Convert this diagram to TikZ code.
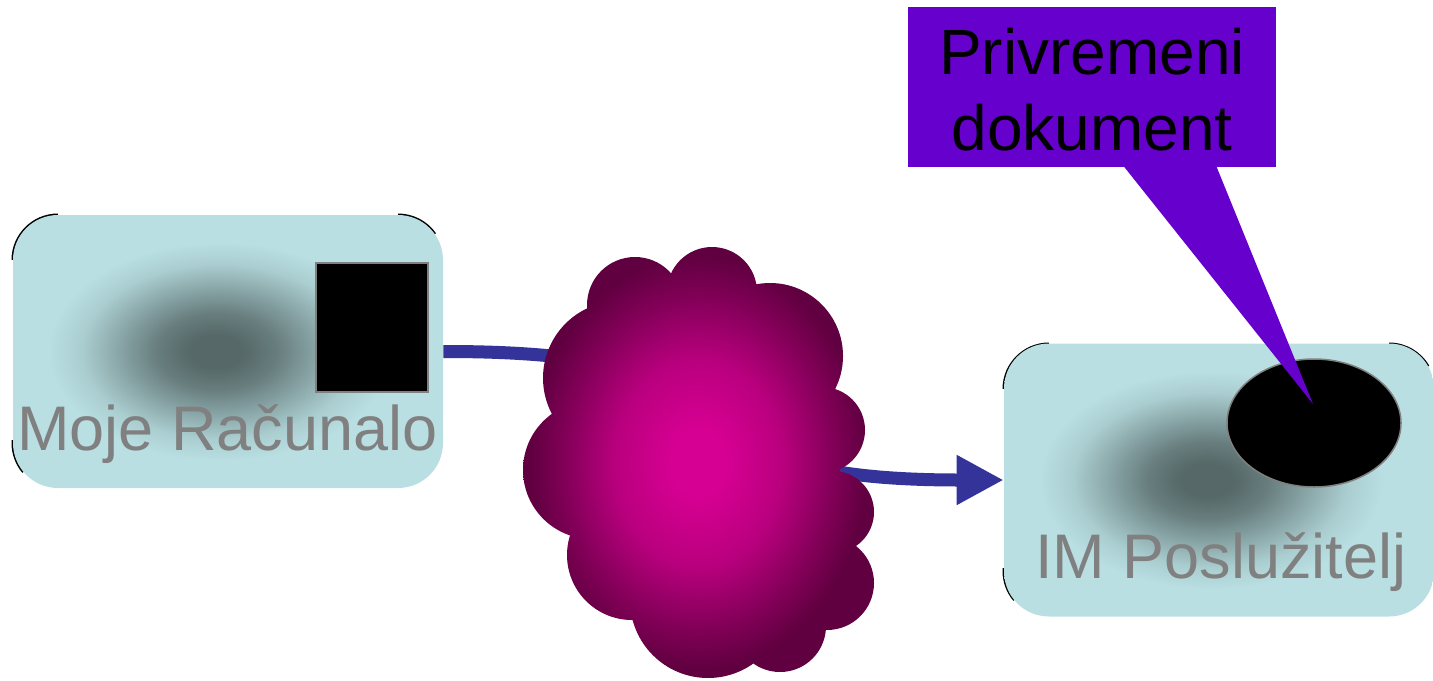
\documentclass[tikz,border=0pt]{standalone}
\usepackage{fontspec}
\setmainfont{Liberation Sans}
\usetikzlibrary{arrows.meta,shapes.geometric}

\definecolor{panelcyan}{RGB}{185,223,226}
\definecolor{paneldark}{RGB}{86,104,104}
\definecolor{labelgray}{RGB}{128,128,128}
\definecolor{linkblue}{RGB}{51,51,153}
\definecolor{cloudhi}{RGB}{214,0,146}
\definecolor{cloudlo}{RGB}{96,0,64}
\definecolor{notepurple}{RGB}{102,0,204}

% soft dark glow inside the cyan panels (25bp = half the panel size)
\pgfdeclareradialshading{panelglow}{\pgfpoint{-1.5bp}{0bp}}{%
  color(0bp)=(paneldark); color(3bp)=(paneldark);
  color(7bp)=(paneldark!82!panelcyan); color(12bp)=(paneldark!45!panelcyan);
  color(16bp)=(paneldark!15!panelcyan); color(20bp)=(panelcyan);
  color(50bp)=(panelcyan)}
% magenta glow of the network cloud
\pgfdeclareradialshading{cloudglow}{\pgfpoint{0bp}{0bp}}{%
  color(0bp)=(cloudhi); color(4bp)=(cloudhi);
  color(12bp)=(cloudlo!25!cloudhi); color(19bp)=(cloudlo!70!cloudhi);
  color(24bp)=(cloudlo); color(50bp)=(cloudlo)}

\tikzset{
  panel/.style={rectangle, rounded corners=22.5pt, minimum width=215pt,
    minimum height=136.5pt, inner sep=0pt, shade, shading=panelglow},
  panellabel/.style={text=labelgray, font=\fontsize{31.5pt}{36pt}\selectfont,
    inner sep=0pt, anchor=base},
  cornerink/.style={draw=black, line width=1.5pt},
  screen/.style={rectangle, fill=black, draw=labelgray, line width=1pt,
    minimum width=56pt, minimum height=64.5pt, inner sep=0pt},
  docshape/.style={ellipse, fill=black, draw=labelgray, line width=0.75pt,
    minimum width=87pt, minimum height=64pt, inner sep=0pt},
  link/.style={draw=linkblue, line width=6.5pt,
    -{Triangle[length=23.5pt,width=23.5pt]}},
  notebox/.style={rectangle, fill=notepurple, minimum width=184pt,
    minimum height=80pt, inner sep=0pt},
  notetext/.style={align=center, inner sep=0pt, anchor=base,
    font=\fontsize{32pt}{38pt}\selectfont},
}

\begin{document}
\begin{tikzpicture}[x=0.5pt,y=-0.5pt]
\useasboundingbox (0,0) rectangle (1433,680);

% dark edge traces at the panel corners
\draw[cornerink] (13,260) arc[start angle=180, end angle=270, radius=45];
\draw[cornerink] (398,215) arc[start angle=270, end angle=325, radius=45];
\draw[cornerink] (13,440) -- (13,443) arc[start angle=180, end angle=140, radius=45];
\draw[cornerink] (1004,389) arc[start angle=180, end angle=270, radius=45];
\draw[cornerink] (1389,344) arc[start angle=270, end angle=330, radius=45];
\draw[cornerink] (1004,568) -- (1004,571) arc[start angle=180, end angle=140, radius=45];

% the two machines
\node[panel] (pc) at (228,351.5) {};
\node[panel] (srv) at (1219,480) {};
\node[screen] (scr) at (372,327.5) {};
\node[docshape] (doc) at (1314,423) {};
\node[panellabel] (pclabel) at (227.5,450) {Moje Računalo};
\node[panellabel] (srvlabel) at (1221,578) {IM Poslužitelj};

% link from the computer to the server
\draw[link] (pc.east) .. controls (820,351) and (620,480) .. (srv.west);

% network cloud
\shade[shading=cloudglow]
  (700,460) circle[radius=140]
  (635,305) circle[radius=48]
  (712,292) circle[radius=45]
  (770,356) circle[radius=73]
  (620,378) circle[radius=77]
  (822,430) circle[radius=43]
  (833,512) circle[radius=41]
  (827,583) circle[radius=47]
  (780,626) circle[radius=46]
  (708,600) circle[radius=78]
  (632,555) circle[radius=65]
  (592,470) circle[radius=69];
\coordinate (cloud) at (698,462);

% callout naming the temporary document
\node[notebox] (note) at (1092,87) {};
\node[notetext] (notelabel) at (1092,74) {Privremeni};
\node[notetext] (notelabel2) at (1092,150) {dokument};
\coordinate (tip) at (1313,404);
\fill[notepurple] ([xshift=15.5pt,yshift=1pt]note.south) -- (tip)
  -- ([xshift=62pt,yshift=1pt]note.south) -- cycle;
\end{tikzpicture}
\end{document}
